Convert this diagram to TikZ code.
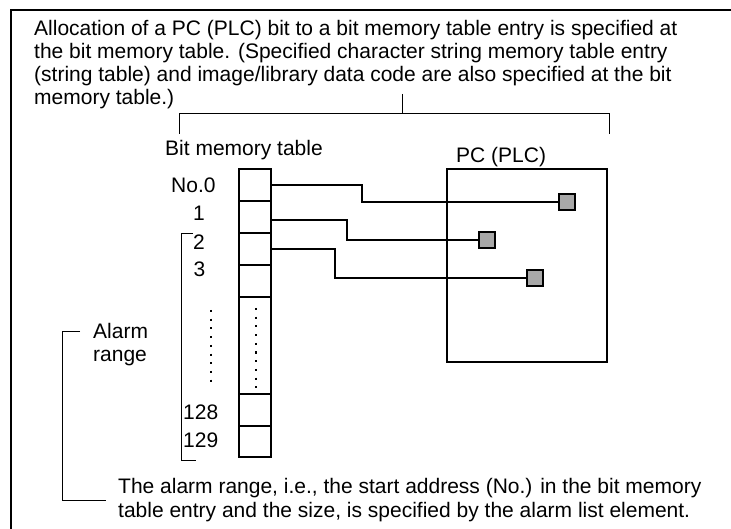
\documentclass[tikz,border=0pt]{standalone}
\usepackage{fontspec}
\setmainfont{Liberation Sans}
\definecolor{sqgray}{HTML}{A8A8A8}
\begin{document}
\begin{tikzpicture}[x=1pt,y=-1pt,
  txt/.style={inner sep=0pt, anchor=base west, font=\fontsize{21}{23.3}\selectfont},
  para/.style={txt, align=left},
  cellbox/.style={draw, line width=2.2pt, minimum width=32pt, inner sep=0pt},
  bitsq/.style={draw, line width=2pt, fill=sqgray, minimum width=16pt, minimum height=16pt, inner sep=0pt},
  wire/.style={line width=2pt},
  brace/.style={line width=1pt},
  dotline/.style={line width=2pt, dash pattern=on 2pt off 6.7pt}
]
\useasboundingbox (0,0) rectangle (731,529);
\clip (0,0) rectangle (731,529);
% frame
\draw[line width=2.2pt] (11,10) rectangle (760,560);

% top paragraph (anchor = baseline of its last line)
\node[para] (top) at (34,105) {Allocation of a PC (PLC) bit to a bit memory table entry is specified at\\
the bit memory table. (Specified character string memory table entry\\
(string table) and image/library data code are also specified at the bit\\
memory table.)};

% top bracket
\coordinate (bl) at (179,134);
\coordinate (br) at (609,134);
\coordinate (bt) at (402,94);
\draw[brace] (bl) |- (br |- 0,114) -- (br);
\draw[brace] (bt) -- (bt |- 0,114);

% labels
\node[txt] (bmt) at (165,156) {Bit memory table};
\node[txt] (pclab) at (456,163) {PC (PLC)};

% PC box
\node[draw, line width=2pt, minimum width=160pt, minimum height=193pt, inner sep=0pt] (pc) at (527,265.5) {};

% table cells
\node[cellbox, minimum height=32pt] (c0) at (255,185) {};
\node[cellbox, minimum height=32pt] (c1) at (255,217) {};
\node[cellbox, minimum height=32pt] (c2) at (255,249) {};
\node[cellbox, minimum height=32pt] (c3) at (255,281) {};
\node[cellbox, minimum height=97pt] (cd) at (255,345.5) {};
\node[cellbox, minimum height=32pt] (c128) at (255,410) {};
\node[cellbox, minimum height=31pt] (c129) at (255,441.5) {};

% dotted lines
\coordinate (dt1) at (256,308);
\coordinate (db1) at (256,388);
\coordinate (dt2) at (211,310);
\coordinate (db2) at (211,388);
\draw[dotline] (dt1) -- (db1);
\draw[dotline] (dt2) -- (db2);

% row labels
\node[txt] (l0) at (171,193) {No.0};
\node[txt] (l1) at (193,221) {1};
\node[txt] (l2) at (193,250) {2};
\node[txt] (l3) at (193.5,277) {3};
\node[txt] (l128) at (183,419) {128};
\node[txt] (l129) at (183,447) {129};

% inner range bracket
\coordinate (ir1) at (193,234);
\coordinate (ir2) at (196,460);
\draw[brace] (ir1) -| (181,460) -- (ir2);

% alarm range bracket + label
\node[para] (alarm) at (93,362) {Alarm\\range};
\coordinate (ar1) at (80,332);
\coordinate (ar2) at (106,500);
\draw[brace] (ar1) -| (62,500) -- (ar2);

% bottom text
\node[para] (bot) at (118,517) {The alarm range, i.e., the start address (No.) in the bit memory\\
table entry and the size, is specified by the alarm list element.};

% bit squares in PC
\node[bitsq] (s1) at (567,202) {};
\node[bitsq] (s2) at (487,240) {};
\node[bitsq] (s3) at (535,278) {};

% connectors
\coordinate (k1) at (362,185.5);
\coordinate (k2) at (347,220);
\coordinate (k3) at (335,249);
\draw[wire] (c0.east |- k1) -- (k1) |- (s1.west);
\draw[wire] (c1.east |- k2) -- (k2) |- (s2.west);
\draw[wire] (c2.east |- k3) -- (k3) |- (s3.west);
\end{tikzpicture}
\end{document}
